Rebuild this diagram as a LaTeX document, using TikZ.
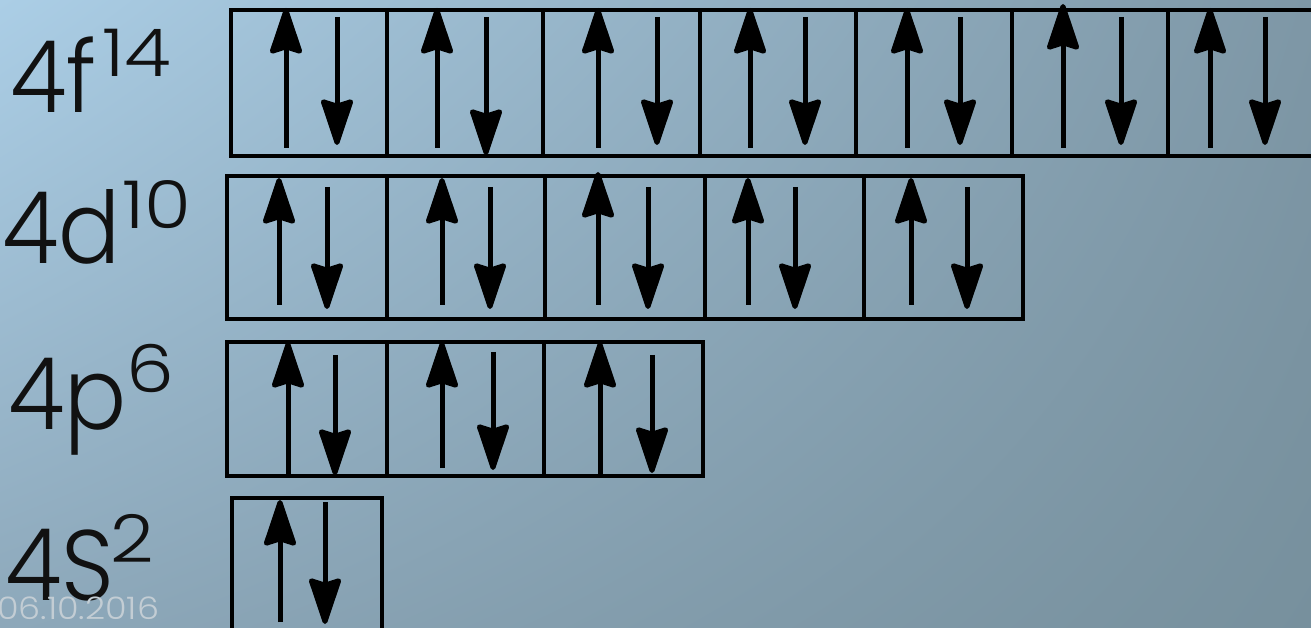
\documentclass[tikz,border=0pt]{standalone}
\usepackage{fontspec}
\setmainfont{Poppins}
\newfontfamily\lblfont[FakeStretch=0.92]{Poppins Light}
\newfontfamily\supfont[FakeStretch=1.15]{Poppins Light}
\newfontfamily\datefont[FakeStretch=1.13]{Poppins Light}
\usetikzlibrary{arrows.meta,shadings}
\definecolor{bgUL}{HTML}{ABCEE6}
\definecolor{bgUR}{HTML}{7E97A6}
\definecolor{bgLL}{HTML}{8DA8BA}
\definecolor{bgLR}{HTML}{77909D}
\definecolor{datecol}{HTML}{C3CDD4}
\definecolor{ink}{HTML}{111111}
\tikzset{
  cellbox/.style={draw=black, line width=4pt, line join=miter},
  divider/.style={draw=black, line width=4pt},
  spin/.style={draw=black, line width=5pt, -{Stealth[length=52pt, width=34pt, inset=5pt, round]}},
  biglabel/.style={anchor=base west, inner sep=0pt, text=ink, font=\lblfont\fontsize{100}{100}\selectfont},
  suplabel/.style={anchor=base west, inner sep=0pt, text=ink, font=\supfont\fontsize{66}{66}\selectfont},
  datelabel/.style={anchor=base west, inner sep=0pt, text=datecol, font=\datefont\fontsize{31}{31}\selectfont}
}
\begin{document}
\begin{tikzpicture}[x=1pt,y=1pt]
\useasboundingbox (0,0) rectangle (1311,627);
\clip (0,0) rectangle (1311,627);
\shade[upper left=bgUL, upper right=bgUR, lower left=bgLL, lower right=bgLR] (0,0) rectangle (1311,627);
% 4f row
\draw[cellbox] (231,471) rectangle (1340,617);
\foreach \x in {387,543,700,856,1012,1168} \draw[divider] (\x,471) -- (\x,617);
\foreach \x/\t in {286/619,437/619,598/619,750/619,907/619,1063/623,1210/619} \draw[spin] (\x,479) -- (\x,\t);
\foreach \x/\t in {337/482,486/472,657/482,805/482,960/482,1121/482,1265/482} \draw[spin] (\x,610) -- (\x,\t);
% 4d row
\draw[cellbox] (227,308) rectangle (1023,451);
\foreach \x in {387,545,705,864} \draw[divider] (\x,308) -- (\x,451);
\foreach \x/\t in {279/449,442/449,598/455,748/449,911/449} \draw[spin] (\x,322) -- (\x,\t);
\foreach \x in {327,490,648,795,967} \draw[spin] (\x,440) -- (\x,318);
% 4p row
\draw[cellbox] (227,151) rectangle (703,285);
\foreach \x in {387,544} \draw[divider] (\x,151) -- (\x,285);
\foreach \x/\b in {288/151,442/159,600/151} \draw[spin] (\x,\b) -- (\x,285);
\foreach \x/\s/\t in {335/272/152,493/275/157,652/272/154} \draw[spin] (\x,\s) -- (\x,\t);
% 4s row
\draw[cellbox] (232,-10) rectangle (382,129);
\draw[spin] (280,5) -- (280,127);
\draw[spin] (325,125) -- (325,3);
% labels
\node[biglabel] (lf) at (10,514) {4f};
\node[suplabel] (lfs) at (102,550) {14};
\node[biglabel] (ld) at (2,363) {4d};
\node[suplabel] (lds) at (122,398) {10};
\node[biglabel] (lp) at (8,198) {4p};
\node[suplabel] (lps) at (126,234) {6};
\node[biglabel] (ls) at (5,27) {4S};
\node[suplabel] (lss) at (110,65) {2};
\node[datelabel] (date) at (-3,8) {06.10.2016};
\end{tikzpicture}
\end{document}
